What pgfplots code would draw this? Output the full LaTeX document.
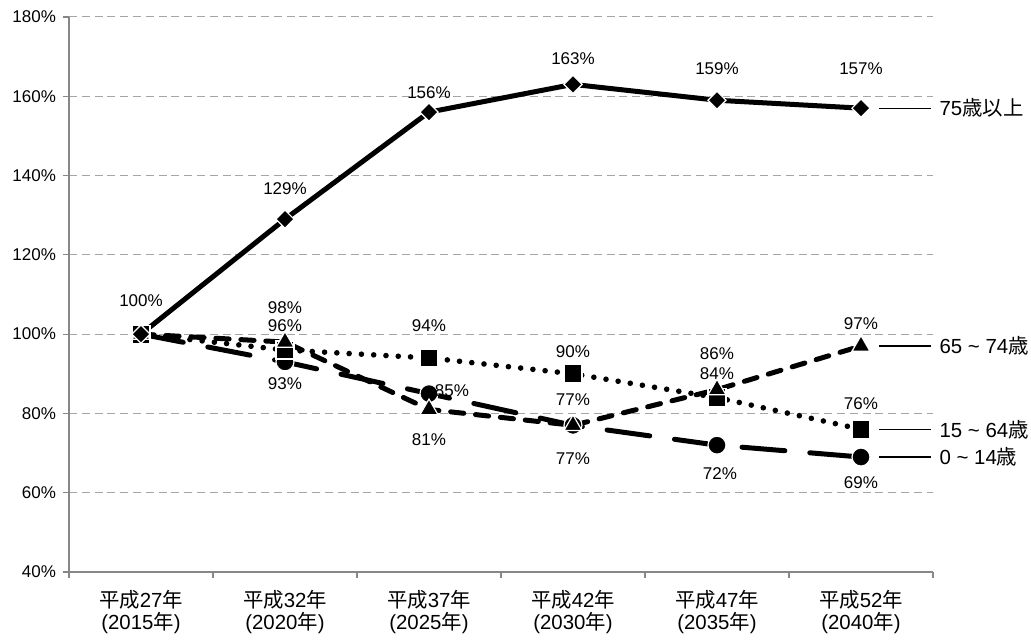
\documentclass[border=0pt]{standalone}
\usepackage{fontspec}
\setmainfont{Liberation Sans}
\newfontfamily\jp{Noto Sans CJK JP}
\usepackage{pgfplots}
\usepackage{pgfplotstable}
\pgfplotsset{compat=1.18}

\definecolor{gridc}{RGB}{165,165,165}
\definecolor{axisc}{RGB}{135,135,135}
\newcommand\lab{\fontsize{8.5}{10}\selectfont}
\newcommand\catfont{\fontsize{10.2}{11.3}\selectfont}

% x  value  label shift (pt)  label text
\pgfplotstableread{
x y dx dy t
0 100 0 16.5 100\%
1 129 0 15.5 129\%
2 156 0 9.5 156\%
3 163 0 13 163\%
4 159 0 16 159\%
5 157 0 19.5 157\%
}\oldest
\pgfplotstableread{
x y dx dy t
0 100 0 0 {}
1 98 0 17 98\%
2 81 0 -15 81\%
3 77 0 -16.5 77\%
4 86 0 17.75 86\%
5 97 0 11 97\%
}\young
\pgfplotstableread{
x y dx dy t
0 100 0 0 {}
1 96 0 12 96\%
2 94 0 16 94\%
3 90 0 11.3 90\%
4 84 0 12.2 84\%
5 76 0 13 76\%
}\work
\pgfplotstableread{
x y dx dy t
0 100 0 0 {}
1 93 0 -10.7 93\%
2 85 11.5 1.25 85\%
3 77 0 13 77\%
4 72 1.5 -14 72\%
5 69 0 -13 69\%
}\child

\pgfplotsset{
  lbl/.style={
    visualization depends on={\thisrow{dx} \as \ldx},
    visualization depends on={\thisrow{dy} \as \ldy},
    point meta=explicit symbolic,
    nodes near coords,
    every node near coord/.append style={anchor=center, xshift=\ldx pt, yshift=\ldy pt,
      font=\lab, text=black, inner sep=0pt},
  },
  mk/.style={mark options={solid, fill=black, draw=white, line width=0.6pt}},
}
\tikzset{side/.style={right, inner sep=0pt, xshift=4pt, font=\catfont}}

\begin{document}
\begin{tikzpicture}
\begin{axis}[
  scale only axis, width=432pt, height=277.5pt,
  xmin=-0.5, xmax=5.5, ymin=40, ymax=180,
  clip=false,
  axis x line*=bottom, axis y line*=left,
  axis line style={draw=axisc, line width=0.6pt, -},
  tick style={draw=axisc, line width=0.6pt},
  tick align=outside, major tick length=3pt,
  xtick={-0.5,0.5,...,5.5}, xticklabels={},
  extra x ticks={0,1,2,3,4,5},
  extra x tick labels={
    {\jp 平成}27{\jp 年}\\(2015{\jp 年}),
    {\jp 平成}32{\jp 年}\\(2020{\jp 年}),
    {\jp 平成}37{\jp 年}\\(2025{\jp 年}),
    {\jp 平成}42{\jp 年}\\(2030{\jp 年}),
    {\jp 平成}47{\jp 年}\\(2035{\jp 年}),
    {\jp 平成}52{\jp 年}\\(2040{\jp 年})},
  extra x tick style={major tick length=0pt, grid=none,
    tick label style={align=center, font=\catfont, yshift=-5.5pt}},
  ytick={40,60,...,180},
  yticklabels={40\%,60\%,80\%,100\%,120\%,140\%,160\%,180\%},
  y tick label style={font=\lab},
  ymajorgrids,
  grid style={draw=gridc, line width=0.5pt, dash pattern=on 4pt off 2.4pt},
]
% 0~14
\addplot[black, line width=2.5pt, line cap=round, dash pattern=on 21.5pt off 12.5pt,
  mark=*, mark size=4.5pt, mk, lbl] table[x=x, y=y, meta=t] {\child};
% 15~64
\addplot[black, line width=2.8pt, line cap=round, dash pattern=on 0pt off 6.15pt,
  mark=square*, mark size=4.5pt, mk, lbl] table[x=x, y=y, meta=t] {\work};
% 65~74
\addplot[black, line width=2.5pt, line cap=round, dash pattern=on 6.6pt off 5.9pt,
  mark=triangle*, mark size=5.2pt, mk, lbl] table[x=x, y=y, meta=t] {\young};
% 75+
\addplot[black, line width=2.5pt, mark=square*, mark size=3.2pt,
  mark options={solid, fill=black, draw=white, line width=0.6pt, rotate=45}, lbl]
  table[x=x, y=y, meta=t] {\oldest};

\draw[line width=0.6pt] ([xshift=9pt]axis cs:5,157) -- ++(26pt,0pt)
  node[side]{75{\jp 歳以上}};
\draw[line width=0.6pt] ([xshift=9pt]axis cs:5,97) -- ++(26pt,0pt)
  node[side]{65 \textasciitilde\ 74{\jp 歳}};
\draw[line width=0.6pt] ([xshift=9pt]axis cs:5,76) -- ++(26pt,0pt)
  node[side]{15 \textasciitilde\ 64{\jp 歳}};
\draw[line width=0.6pt] ([xshift=9pt]axis cs:5,69) -- ++(26pt,0pt)
  node[side]{0 \textasciitilde\ 14{\jp 歳}};
\end{axis}
\path ([shift={(-34.5pt,-34.5pt)}]current axis.south west)
  rectangle ([shift={(49pt,8.5pt)}]current axis.north east);
\end{tikzpicture}
\end{document}
